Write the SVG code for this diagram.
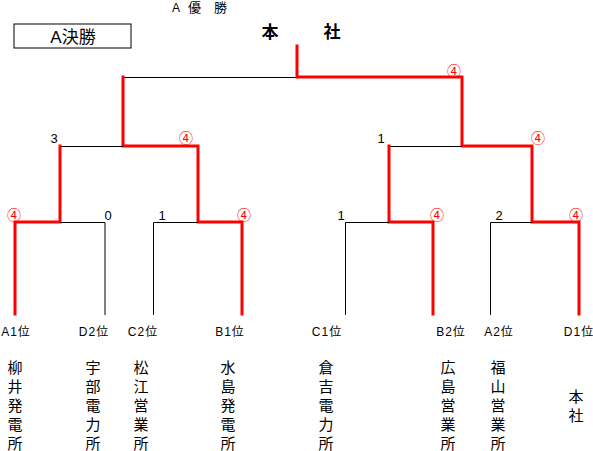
<svg xmlns="http://www.w3.org/2000/svg" width="593" height="451" viewBox="0 0 593 451">
<style>
text{font-family:"Liberation Sans","Noto Sans CJK JP",sans-serif;fill:#000}
.k{stroke:#000;stroke-width:1;fill:none}
.r{stroke:#f00;stroke-width:3;fill:none;stroke-linejoin:miter;stroke-linecap:square}
.lb{font-size:12px;text-anchor:middle;letter-spacing:1px}
.sc{font-size:13px;text-anchor:middle}
.w{font-size:14px;text-anchor:middle;fill:#f00}
.v{font-size:15px;text-anchor:middle}
</style>
<rect width="593" height="451" fill="#fff"/>
<g id="title">
<text x="172" y="12" style="font-size:12px">A</text>
<text x="188" y="12" style="font-size:13px">優</text>
<text x="214" y="12" style="font-size:13px">勝</text>
<rect x="14" y="24" width="117" height="24" fill="none" stroke="#000" stroke-width="1"/>
<text x="73" y="43" style="font-size:17px" text-anchor="middle">A決勝</text>
<text x="270" y="38" style="font-size:17px;font-weight:bold" text-anchor="middle">本</text>
<text x="332" y="38" style="font-size:17px;font-weight:bold" text-anchor="middle">社</text>
</g>
<g id="connectors">
<path class="k" d="M123 77.5H297"/>
<path class="r" d="M297 46V77H462V146H532V222H579V314"/>
<path class="r" d="M123 77V146H198V222H242V314"/>
<path class="k" d="M60 146.5H123"/>
<path class="r" d="M60 146V222H15V314"/>
<path class="k" d="M60 222.5H105V315"/>
<path class="k" d="M153.5 315V222.5H198"/>
<path class="k" d="M389 146.5H462"/>
<path class="r" d="M389 146V222H433V314"/>
<path class="k" d="M345.5 315V222.5H389"/>
<path class="k" d="M490.5 315V222.5H532"/>
</g>
<g id="scores">
<text class="w" x="454" y="76">④</text>
<text class="sc" x="54" y="143">3</text>
<text class="w" x="186" y="143">④</text>
<text class="sc" x="381" y="143">1</text>
<text class="w" x="538" y="143">④</text>
<text class="w" x="14" y="220">④</text>
<text class="sc" x="108" y="220">0</text>
<text class="sc" x="162" y="220">1</text>
<text class="w" x="244" y="220">④</text>
<text class="sc" x="341" y="220">1</text>
<text class="w" x="437" y="220">④</text>
<text class="sc" x="499" y="220">2</text>
<text class="w" x="576" y="220">④</text>
</g>
<g id="seeds">
<text class="lb" x="16" y="336">A1位</text>
<text class="lb" x="94" y="336">D2位</text>
<text class="lb" x="143" y="336">C2位</text>
<text class="lb" x="230" y="336">B1位</text>
<text class="lb" x="327" y="336">C1位</text>
<text class="lb" x="451" y="336">B2位</text>
<text class="lb" x="499" y="336">A2位</text>
<text class="lb" x="579" y="336">D1位</text>
</g>
<g id="team-yanai"><text class="v" x="15" y="373">柳</text><text class="v" x="15" y="392">井</text><text class="v" x="15" y="411">発</text><text class="v" x="15" y="430">電</text><text class="v" x="15" y="449">所</text></g>
<g id="team-ube"><text class="v" x="93" y="373">宇</text><text class="v" x="93" y="392">部</text><text class="v" x="93" y="411">電</text><text class="v" x="93" y="430">力</text><text class="v" x="93" y="449">所</text></g>
<g id="team-matsue"><text class="v" x="141" y="373">松</text><text class="v" x="141" y="392">江</text><text class="v" x="141" y="411">営</text><text class="v" x="141" y="430">業</text><text class="v" x="141" y="449">所</text></g>
<g id="team-mizushima"><text class="v" x="228" y="373">水</text><text class="v" x="228" y="392">島</text><text class="v" x="228" y="411">発</text><text class="v" x="228" y="430">電</text><text class="v" x="228" y="449">所</text></g>
<g id="team-kurayoshi"><text class="v" x="326" y="373">倉</text><text class="v" x="326" y="392">吉</text><text class="v" x="326" y="411">電</text><text class="v" x="326" y="430">力</text><text class="v" x="326" y="449">所</text></g>
<g id="team-hiroshima"><text class="v" x="448" y="373">広</text><text class="v" x="448" y="392">島</text><text class="v" x="448" y="411">営</text><text class="v" x="448" y="430">業</text><text class="v" x="448" y="449">所</text></g>
<g id="team-fukuyama"><text class="v" x="498" y="373">福</text><text class="v" x="498" y="392">山</text><text class="v" x="498" y="411">営</text><text class="v" x="498" y="430">業</text><text class="v" x="498" y="449">所</text></g>
<g id="team-honsha"><text class="v" x="576" y="402">本</text><text class="v" x="576" y="421">社</text></g>
</svg>
